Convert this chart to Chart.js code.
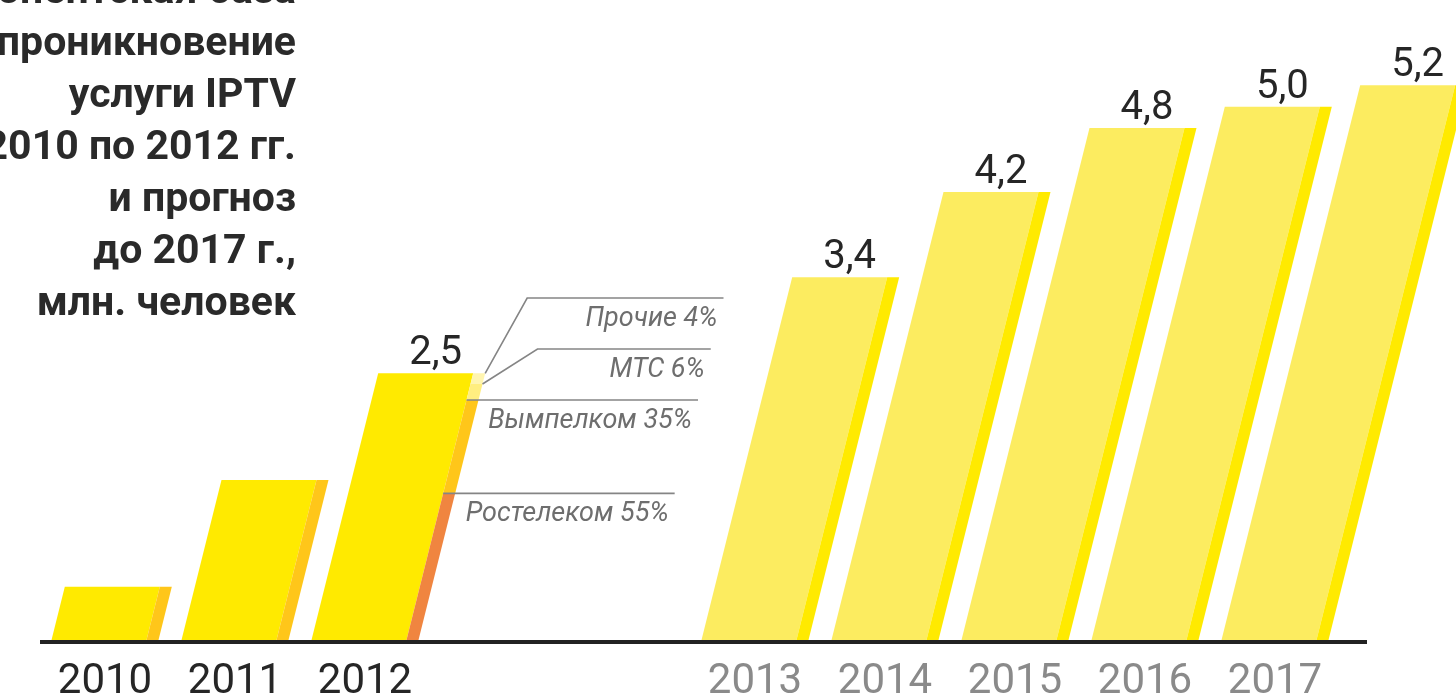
<!DOCTYPE html>
<html><head><meta charset="utf-8">
<script src="https://cdn.jsdelivr.net/npm/chart.js@4"></script>
<style>html,body{margin:0;padding:0;background:#fff;overflow:hidden}#wrap{width:1456px;height:700px;position:relative}</style>
</head><body><div id="wrap"><canvas id="c" width="1456" height="700"></canvas></div>
<script>
// ---- data ----
const years = ['2010', '2011', '2012', '', '', '2013', '2014', '2015', '2016', '2017'];
const actualValues = [0.5, 1.5, 2.5, null, null, null, null, null, null, null];
const forecastValues = [null, null, null, null, null, 3.4, 4.2, 4.8, 5.0, 5.2];
const labelledYears = ['2012', '2013', '2014', '2015', '2016', '2017'];
const shareYear = '2012';
const operators = ['Ростелеком', 'Вымпелком', 'МТС', 'Прочие'];
const operatorShares = [55, 35, 6, 4];
const titleLines = ['Абонентская база', 'проникновение', 'услуги IPTV', 'с 2010 по 2012 гг.', 'и прогноз', 'до 2017 г.,', 'млн. человек'];

// ---- style ----
const SKEW = 0.25;
const STRIP = 12;
const shareColors = ['#F08540', '#FFC61A', '#FFEE80', '#FFF5B0'];
const leaderRun = [0, 0, 55, 42];

function para(ctx, xl, xr, yTop, yBot, base, color) {
  const sb = (base - yBot) * SKEW, st = (base - yTop) * SKEW;
  ctx.beginPath();
  ctx.moveTo(xl + sb, yBot);
  ctx.lineTo(xr + sb, yBot);
  ctx.lineTo(xr + st, yTop);
  ctx.lineTo(xl + st, yTop);
  ctx.closePath();
  ctx.fillStyle = color;
  ctx.fill();
}

const skewBars = {
  id: 'skewBars',
  beforeDatasetDraw(chart, args) {
    const ctx = chart.ctx;
    const ds = chart.data.datasets[args.index];
    const ys = chart.scales.y;
    ctx.save();
    args.meta.data.forEach((el, i) => {
      const v = ds.data[i];
      if (v == null) return;
      const { x, y, base, width } = el;
      const xl = x - width / 2, xr = x + width / 2;
      para(ctx, xl, xr - STRIP, y, base, base, ds.mainColor);
      if (chart.data.labels[i] === shareYear) {
        let cum = 0;
        operatorShares.forEach((s, k) => {
          const y0 = ys.getPixelForValue(v * cum / 100);
          cum += s;
          const y1 = ys.getPixelForValue(v * cum / 100);
          para(ctx, xr - STRIP, xr, y1, y0, base, shareColors[k]);
        });
      } else {
        para(ctx, xr - STRIP, xr, y, base, base, ds.stripColor);
      }
    });
    ctx.restore();
    return false;
  },
  afterDatasetsDraw(chart) {
    const ctx = chart.ctx;
    const ca = chart.chartArea;
    const ys = chart.scales.y;
    ctx.save();
    // axis line
    ctx.strokeStyle = '#222';
    ctx.lineWidth = 4;
    ctx.beginPath();
    ctx.moveTo(ca.left, ca.bottom + 2);
    ctx.lineTo(ca.right + 27, ca.bottom + 2);
    ctx.stroke();

    // value labels
    ctx.font = '40px Roboto';
    ctx.fillStyle = '#262626';
    ctx.textAlign = 'center';
    ctx.textBaseline = 'alphabetic';
    chart.data.datasets.forEach((ds, di) => {
      const meta = chart.getDatasetMeta(di);
      meta.data.forEach((el, i) => {
        const v = ds.data[i];
        if (v == null || !labelledYears.includes(chart.data.labels[i])) return;
        const s = (el.base - el.y) * SKEW;
        ctx.fillText(v.toFixed(1).replace('.', ','), el.x + s + 4, el.y - 9);
      });
    });

    // share annotations
    const idx = chart.data.labels.indexOf(shareYear);
    const el = chart.getDatasetMeta(0).data[idx];
    const v = chart.data.datasets[0].data[idx];
    const base = el.base;
    const xr = el.x + el.width / 2, xs = xr - STRIP;
    const endX = yy => el.x + 273 + (base - yy) * SKEW;
    ctx.strokeStyle = '#858585';
    ctx.lineWidth = 1.6;
    ctx.fillStyle = '#6e6e6e';
    ctx.font = 'italic 27px Roboto';
    ctx.textAlign = 'right';
    let cum = 0;
    const bounds = operatorShares.map(s => { cum += s; return ys.getPixelForValue(v * cum / 100); });
    const rowGap = 51;
    operators.forEach((name, k) => {
      const yb = bounds[k];
      let rowY;
      ctx.beginPath();
      if (k < 2) {
        rowY = yb;
        ctx.moveTo(xs + (base - yb) * SKEW, yb);
        ctx.lineTo(endX(rowY), rowY);
      } else {
        rowY = bounds[1] - rowGap * (k - 1);
        const sx = xr + (base - yb) * SKEW;
        ctx.moveTo(sx, yb);
        ctx.lineTo(sx + leaderRun[k], rowY);
        ctx.lineTo(endX(rowY), rowY);
      }
      ctx.stroke();
      ctx.fillText(name + ' ' + operatorShares[k] + '%', endX(rowY) - 6, rowY + 28);
    });
    ctx.restore();
  },
  afterDraw(chart) {
    const ctx = chart.ctx;
    ctx.save();
    ctx.font = 'bold 41px Roboto';
    ctx.fillStyle = '#2a2a2a';
    ctx.textAlign = 'right';
    ctx.textBaseline = 'alphabetic';
    titleLines.forEach((t, i) => ctx.fillText(t, 296, 3 + 52 * i));
    ctx.restore();
  }
};

new Chart(document.getElementById('c'), {
  type: 'bar',
  data: {
    labels: years,
    datasets: [
      { label: 'Факт', data: actualValues, mainColor: '#FFEA00', stripColor: '#FFC61A', backgroundColor: '#FFEA00', barThickness: 107 },
      { label: 'Прогноз', data: forecastValues, mainColor: '#FCEC60', stripColor: '#FFEA00', backgroundColor: '#FCEC60', barThickness: 107 }
    ]
  },
  options: {
    responsive: false,
    animation: false,
    devicePixelRatio: 1,
    layout: { padding: { left: 40, right: 116, top: 0, bottom: 0 } },
    plugins: { legend: { display: false }, tooltip: { enabled: false } },
    scales: {
      x: {
        stacked: true,
        grid: { display: false, drawTicks: false },
        border: { display: false },
        afterFit: s => { s.height = 60; },
        ticks: {
          autoSkip: false, maxRotation: 0, minRotation: 0, padding: 21,
          font: { family: 'Roboto', size: 42, lineHeight: 1 },
          color: c => (c.index <= 2 ? '#262626' : '#8a8a8a')
        }
      },
      y: { display: false, stacked: true, min: 0, max: 6 }
    }
  },
  plugins: [skewBars]
});
</script></body></html>
